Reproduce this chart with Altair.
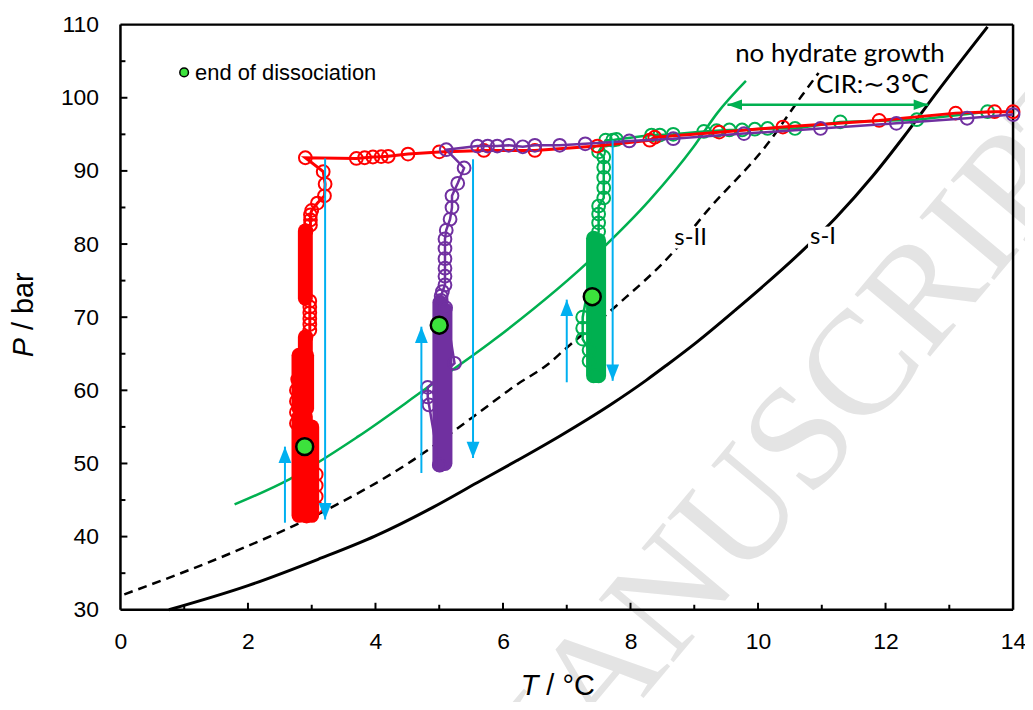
import altair as alt
import pandas as pd

# ---------------- data ----------------
# equilibrium curves
sI_T = [0.76, 2.0, 3.1, 4.0, 4.9, 5.6, 6.22, 6.9, 7.68, 8.25, 8.56, 9.04, 9.62, 10.71, 11.22, 11.8, 12.28, 12.81, 13.6]
sI_P = [30.0, 33.3, 36.9, 40.1, 44.0, 47.4, 50.4, 53.8, 58.0, 61.4, 63.4, 66.6, 70.8, 79.2, 83.6, 89.3, 94.6, 100.8, 109.7]
sII_T = [0.06, 1.75, 3.31, 4.51, 5.52, 6.22, 6.71, 6.97, 7.77, 8.67, 9.2, 10.15, 10.68, 10.95]
sII_P = [32.1, 37.8, 44.0, 50.0, 56.3, 60.8, 63.6, 65.6, 71.5, 78.9, 84.5, 93.7, 100.2, 103.4]
# no-hydrate-growth boundary (green)
ng_T = [1.79, 2.64, 3.73, 4.77, 5.86, 7.5, 8.3, 8.99, 9.36, 9.81]
ng_P = [44.4, 47.8, 53.7, 60.1, 66.9, 78.9, 86.0, 93.3, 97.9, 102.3]

# experimental runs (ordered paths)
red_T = [14.0, 13.71, 13.1, 11.9, 10.39, 9.39, 8.38, 8.3, 7.48, 6.5, 5.7, 5.0, 4.51, 4.2, 4.09, 3.96, 3.83, 3.7, 2.9,
         3.18, 3.21, 3.2, 3.09, 3.0, 2.98, 2.98, 2.98, 2.91,
         2.97, 2.97, 2.97, 2.97, 2.97, 2.97, 2.91, 2.78, 2.76, 2.76, 2.76, 2.76,
         3.07, 3.07, 3.07, 3.07, 2.92]
red_P = [98.1, 98.1, 97.9, 96.9, 96.0, 95.3, 94.6, 94.2, 93.4, 92.8, 92.8, 92.6, 92.3, 92.0, 91.95, 91.9, 91.8, 91.7, 91.8,
         89.9, 88.2, 86.6, 85.6, 84.6, 84.0, 83.3, 82.6, 81.8,
         72.2, 71.4, 70.6, 69.8, 69.0, 68.2, 67.3, 61.5, 60.0, 58.5, 57.0, 55.5,
         48.5, 47.0, 45.5, 44.0, 42.8]
purple_T = [14.0, 13.28, 12.17, 10.98, 9.78, 8.67, 7.98, 7.29, 6.89, 6.5, 6.31, 6.09, 5.91, 5.76, 5.6, 5.11,
            5.39, 5.29, 5.2, 5.2, 5.17, 5.11, 5.09, 5.09, 5.09, 5.09, 5.09, 5.09, 5.05, 5.03, 5.03, 5.1,
            5.24, 4.82, 4.82, 4.84, 5.0]
purple_P = [97.7, 97.2, 96.5, 95.8, 95.1, 94.4, 94.1, 93.7, 93.5, 93.5, 93.3, 93.5, 93.4, 93.4, 93.4, 92.9,
            90.4, 88.3, 86.6, 85.0, 83.4, 81.9, 80.7, 79.4, 78.0, 76.7, 75.6, 74.4, 73.5, 72.9, 72.3, 71.3,
            63.7, 60.4, 59.1, 58.0, 49.8]
green_T = [13.6, 12.49, 11.29, 10.58, 10.15, 9.95, 9.75, 9.55, 9.35, 9.15, 8.67, 8.46, 8.33, 7.78, 7.72, 7.61,
           7.5, 7.58, 7.58, 7.58, 7.58, 7.58, 7.5, 7.5, 7.5, 7.5, 7.25, 7.25, 7.25, 7.35, 7.35, 7.46]
green_P = [98.1, 97.0, 96.7, 95.8, 95.8, 95.7, 95.6, 95.6, 95.5, 95.4, 95.0, 94.9, 94.9, 94.3, 94.2, 94.2,
           92.6, 91.9, 90.5, 89.1, 87.7, 86.3, 85.2, 84.1, 82.9, 81.7, 70.0, 68.5, 67.0, 65.5, 64.0, 62.0]

# densely packed readings (drawn as solid columns)
red_seg_T = [2.9, 2.9, 2.8, 2.92, 2.8, 2.9, 3.0]
red_seg_P1 = [72.6, 65.5, 57.5, 57.5, 42.9, 42.9, 42.9]
red_seg_P2 = [81.8, 67.3, 64.8, 64.8, 56.4, 56.4, 55.0]
purple_seg_T = [5.01, 5.09]
purple_seg_P1 = [49.8, 50.0]
purple_seg_P2 = [72.0, 71.0]
green_seg_T = [7.42, 7.5]
green_seg_P1 = [62.0, 62.0]
green_seg_P2 = [80.8, 80.5]

# end of dissociation points
end_T = [2.89, 5.0, 7.4]
end_P = [52.3, 68.9, 72.8]

# blue arrows
up_T = [2.58, 4.72, 7.0]
up_P0 = [41.9, 48.7, 61.1]
up_P1 = [52.3, 68.7, 72.4]
dn_T = [3.21, 5.53, 7.72]
dn_P0 = [91.7, 91.6, 94.2]
dn_P1 = [42.35, 50.75, 61.3]

# CIR double arrow
cir_T = [9.52, 12.67]
cir_P = [99.05, 99.05]

x_major = [2, 4, 6, 8, 10, 12]
x_minor = [1, 3, 5, 7, 9, 11, 13]
y_major = [40, 50, 60, 70, 80, 90, 100]
y_minor = [35, 45, 55, 65, 75, 85, 95, 105]
x_labels = [0, 2, 4, 6, 8, 10, 12, 14]
y_labels = [30, 40, 50, 60, 70, 80, 90, 100, 110]

# ---------------- chart ----------------
W, H = 897, 588
RED, PURPLE, GREEN, BLUE = "#FF0000", "#7030A0", "#00B050", "#00B0F0"
xs = alt.Scale(domain=[0, 14], nice=False, zero=False)
ys = alt.Scale(domain=[30, 110], nice=False, zero=False)
xaxis = alt.Axis(values=x_labels, title=None, ticks=False, domain=False, grid=False,
                 labelFont="Liberation Sans", labelFontSize=23, labelColor="black",
                 labelPadding=21, labelFlush=False, labelOverlap=False, format="d")
yaxis = alt.Axis(values=y_labels, title=None, ticks=False, domain=False, grid=False,
                 labelFont="Liberation Sans", labelFontSize=23, labelColor="black",
                 labelPadding=22, labelFlush=False, labelOverlap=False, format="d")


def X(f="T"):
    return alt.X(f"{f}:Q", scale=xs, axis=xaxis)


def Y(f="P"):
    return alt.Y(f"{f}:Q", scale=ys, axis=yaxis)


def path_df(T, P):
    return pd.DataFrame({"T": T, "P": P, "i": list(range(len(T)))})


def seg_df(T, P1, P2):
    return pd.DataFrame({"T": T, "P": P1, "P2": P2})


one = pd.DataFrame({"a": [0]})
layers = []

# watermark
layers.append(alt.Chart(one).mark_text(text="MANUSCRIPT", font="Liberation Serif", fontSize=150,
                                       color="#e4e4e4", angle=310, align="center", baseline="middle")
              .encode(x=alt.value(674), y=alt.value(430)))

# equilibrium curves
layers.append(alt.Chart(path_df(sI_T, sI_P)).mark_line(color="black", strokeWidth=3, interpolate="monotone")
              .encode(x=X(), y=Y(), order="i:Q"))
layers.append(alt.Chart(path_df(sII_T, sII_P)).mark_line(color="black", strokeWidth=2.5, strokeDash=[9, 6],
                                                         interpolate="monotone")
              .encode(x=X(), y=Y(), order="i:Q"))
layers.append(alt.Chart(path_df(ng_T, ng_P)).mark_line(color=GREEN, strokeWidth=2.5, interpolate="monotone")
              .encode(x=X(), y=Y(), order="i:Q"))

# white boxes behind the curve labels
for x1, x2, y1, y2 in [(553, 593, 203, 225), (691, 722, 203, 225), (616, 830, 18, 44), (703, 807, 48, 73)]:
    layers.append(alt.Chart(one).mark_rect(color="white", opacity=1)
                  .encode(x=alt.value(x1), x2=alt.value(x2), y=alt.value(y1), y2=alt.value(y2)))

# frame
frame_w = 2.5
layers.append(alt.Chart(one).mark_rule(color="black", strokeWidth=frame_w)
              .encode(x=alt.value(0), x2=alt.value(W), y=alt.value(0)))
layers.append(alt.Chart(one).mark_rule(color="black", strokeWidth=frame_w)
              .encode(x=alt.value(0), x2=alt.value(W), y=alt.value(H)))
layers.append(alt.Chart(one).mark_rule(color="black", strokeWidth=frame_w)
              .encode(x=alt.value(0), y=alt.value(0), y2=alt.value(H)))
layers.append(alt.Chart(one).mark_rule(color="black", strokeWidth=frame_w)
              .encode(x=alt.value(W), y=alt.value(0), y2=alt.value(H)))

# ticks (inward)
tick_col = "black"
layers.append(alt.Chart(pd.DataFrame({"T": x_major})).mark_rule(color=tick_col, strokeWidth=2)
              .encode(x=X(), y=alt.value(H), y2=alt.value(H - 7)))
layers.append(alt.Chart(pd.DataFrame({"T": x_minor})).mark_rule(color=tick_col, strokeWidth=2)
              .encode(x=X(), y=alt.value(H), y2=alt.value(H - 5)))
layers.append(alt.Chart(pd.DataFrame({"P": y_major})).mark_rule(color=tick_col, strokeWidth=2)
              .encode(y=Y(), x=alt.value(0), x2=alt.value(7)))
layers.append(alt.Chart(pd.DataFrame({"P": y_minor})).mark_rule(color=tick_col, strokeWidth=2)
              .encode(y=Y(), x=alt.value(0), x2=alt.value(5)))

# series: green, red, purple
for T, P, sT, sP1, sP2, col, lw in [
    (green_T, green_P, green_seg_T, green_seg_P1, green_seg_P2, GREEN, 2.5),
    (red_T, red_P, red_seg_T, red_seg_P1, red_seg_P2, RED, 3),
    (purple_T, purple_P, purple_seg_T, purple_seg_P1, purple_seg_P2, PURPLE, 2.5),
]:
    d = path_df(T, P)
    layers.append(alt.Chart(d).mark_line(color=col, strokeWidth=lw).encode(x=X(), y=Y(), order="i:Q"))
    layers.append(alt.Chart(seg_df(sT, sP1, sP2)).mark_rule(color=col, strokeWidth=15, strokeCap="round")
                  .encode(x=X(), y=Y(), y2=alt.Y2("P2:Q")))
    layers.append(alt.Chart(d).mark_point(shape="circle", filled=False, size=165, strokeWidth=2,
                                          color=col, opacity=1)
                  .encode(x=X(), y=Y()))

# blue arrows
up = pd.DataFrame({"T": up_T, "P": up_P0, "P2": up_P1})
dn = pd.DataFrame({"T": dn_T, "P": dn_P0, "P2": dn_P1})
for d, head in [(up, "M0,0L0.55,1.4L-0.55,1.4Z"), (dn, "M0,0L0.55,-1.4L-0.55,-1.4Z")]:
    layers.append(alt.Chart(d).mark_rule(color=BLUE, strokeWidth=2).encode(x=X(), y=Y(), y2=alt.Y2("P2:Q")))
    layers.append(alt.Chart(d).mark_point(shape=head, filled=True, size=550, color=BLUE, opacity=1)
                  .encode(x=X(), y=Y("P2")))

# CIR double arrow
cir = pd.DataFrame({"T": cir_T, "P": cir_P, "i": [0, 1]})
layers.append(alt.Chart(cir).mark_line(color=GREEN, strokeWidth=2.5).encode(x=X(), y=Y(), order="i:Q"))
layers.append(alt.Chart(cir.iloc[[0]]).mark_point(shape="M0,0L1.5,-0.55L1.5,0.55Z", filled=True, size=380,
                                                  color=GREEN, opacity=1).encode(x=X(), y=Y()))
layers.append(alt.Chart(cir.iloc[[1]]).mark_point(shape="M0,0L-1.5,-0.55L-1.5,0.55Z", filled=True, size=380,
                                                  color=GREEN, opacity=1).encode(x=X(), y=Y()))

# end of dissociation points
layers.append(alt.Chart(pd.DataFrame({"T": end_T, "P": end_P})).mark_point(
    shape="circle", filled=True, size=290, fill="#3CE23C", stroke="black", strokeWidth=2.5, opacity=1)
    .encode(x=X(), y=Y()))

# legend
layers.append(alt.Chart(one).mark_point(shape="circle", filled=True, size=75, fill="#3CE23C", stroke="black",
                                        strokeWidth=1.5, opacity=1)
              .encode(x=alt.value(64), y=alt.value(48)))
layers.append(alt.Chart(one).mark_text(text="end of dissociation", font="Liberation Sans", fontSize=22,
                                       color="black", align="left", baseline="middle")
              .encode(x=alt.value(75), y=alt.value(49)))

# annotations
for txt, xv, yv, fs in [("no hydrate growth", 723, 30, 26), ("CIR:\u223c3\u2103", 756, 61, 26),
                        ("s-II", 573, 214, 24), ("s-I", 706, 213, 24)]:
    layers.append(alt.Chart(one).mark_text(text=txt, font="Lato", fontSize=fs, color="black",
                                           align="center", baseline="middle")
                  .encode(x=alt.value(xv), y=alt.value(yv)))

# axis titles (italic symbol + upright unit)
layers.append(alt.Chart(one).mark_text(text="P", font="Liberation Sans", fontSize=29, fontStyle="italic",
                                       color="black", angle=270, align="right", baseline="middle")
              .encode(x=alt.value(-97), y=alt.value(315)))
layers.append(alt.Chart(one).mark_text(text="/ bar", font="Liberation Sans", fontSize=29,
                                       color="black", angle=270, align="left", baseline="middle")
              .encode(x=alt.value(-97), y=alt.value(307)))
layers.append(alt.Chart(one).mark_text(text="T", font="Liberation Sans", fontSize=29, fontStyle="italic",
                                       color="black", align="right", baseline="middle")
              .encode(x=alt.value(420), y=alt.value(665)))
layers.append(alt.Chart(one).mark_text(text="/ \u00b0C", font="Liberation Sans", fontSize=29,
                                       color="black", align="left", baseline="middle")
              .encode(x=alt.value(428), y=alt.value(665)))

chart = (alt.layer(*layers)
         .properties(width=W, height=H, autosize=alt.AutoSizeParams(type="none"),
                     padding={"left": 113, "top": 15, "right": 12, "bottom": 91})
         .configure_view(stroke=None)
         .configure(background="white"))

chart.save("out.html", embed_options={"renderer": "svg", "actions": False})
